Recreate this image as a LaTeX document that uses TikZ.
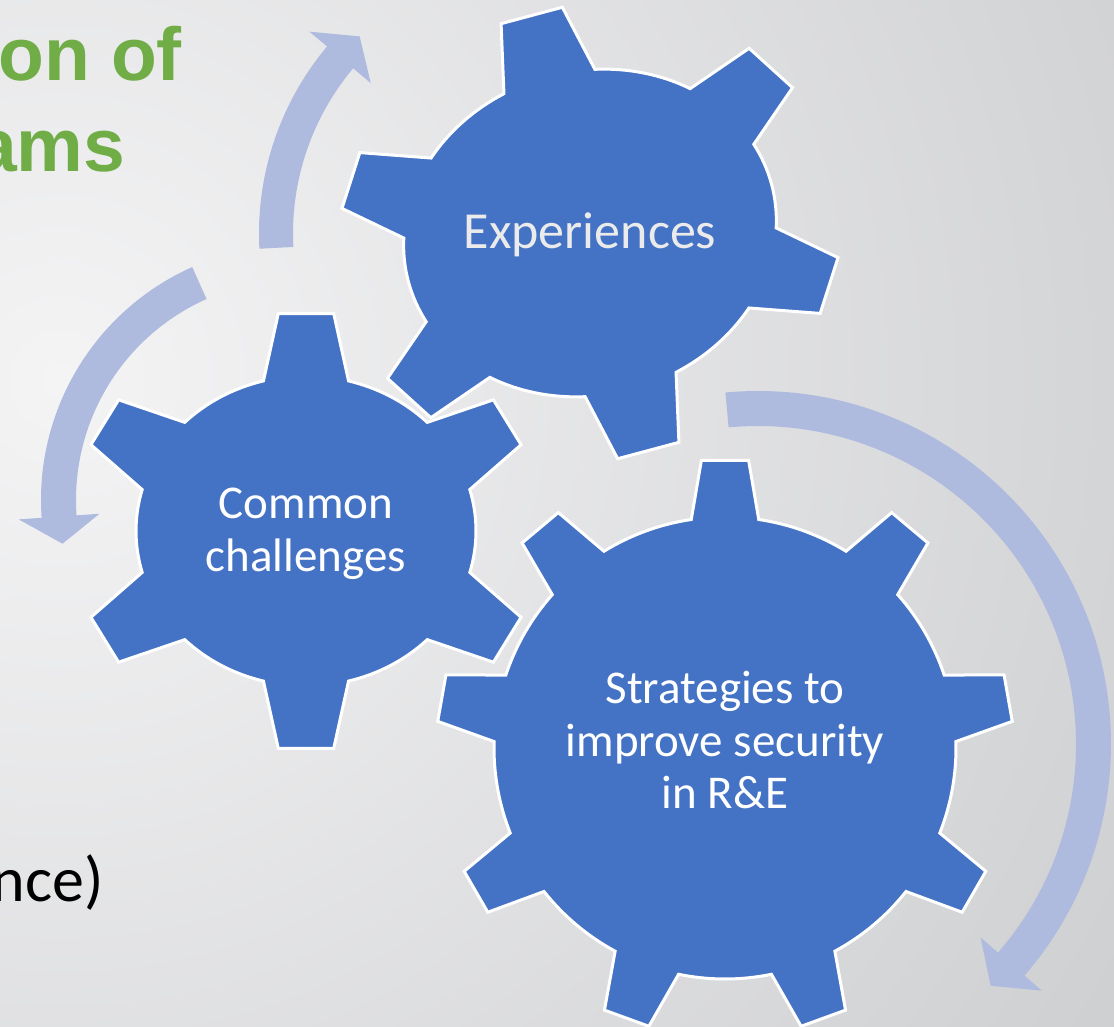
\documentclass[tikz,border=0pt]{standalone}
\usepackage{fontspec}
\setmainfont{Carlito}
\newfontfamily\headfont{Liberation Sans}
\usetikzlibrary{calc}
\definecolor{gearblue}{RGB}{68,114,196}
\definecolor{flowblue}{RGB}{174,187,223}
\definecolor{headgreen}{RGB}{112,173,71}
\definecolor{bglight}{RGB}{244,244,245}
\definecolor{bgdark}{RGB}{206,207,209}
\tikzset{
	gear/.style={fill=gearblue,draw=white,line width=3pt,line join=miter},
	flow/.style={fill=flowblue,draw=none},
	geartext/.style={
		text=white, align=center, inner sep=0pt,
		font=\fontsize{47}{52.5}\selectfont
	},
	headline/.style={text=headgreen,inner sep=0pt,font=\headfont\bfseries\fontsize{75}{90}\selectfont}
}
% #1,#2 root radii, #3 tooth length, #4 teeth, #5 first tooth, #6 root half angle, #7 tip half angle
\newcommand{\gearpath}[7]{%
	\pgfmathsetmacro\tipx{#1+#3}%
	\pgfmathsetmacro\tipy{#2+#3}%
	\pgfmathsetmacro\pitch{360/#4}%
	\path[gear] ({#5-#6}:{#1} and {#2})
	\foreach \k [evaluate=\k as \p using #5+(\k-1)*\pitch] in {1,...,#4}
	{
		-- ({\p-#7}:{\tipx} and {\tipy}) -- ({\p+#7}:{\tipx} and {\tipy}) -- ({\p+#6}:{#1} and {#2})
		arc[start angle=\p+#6, end angle=\p+\pitch-#6, x radius=#1, y radius=#2]
	} -- cycle;
}
% #1 inner radius, #2 outer radius, #3 tail angle, #4 head angle, #5 tip angle
\newcommand{\flowpath}[5]{%
	\pgfmathsetmacro\midr{(#1+#2)/2}%
	\path[flow] (#3:#2) arc[start angle=#3, end angle=#4, radius=#2]
		-- (#4:#2+23) -- (#5:\midr) -- (#4:#1-23) -- (#4:#1)
		arc[start angle=#4, end angle=#3, radius=#1] -- cycle;
}

\begin{document}
\begin{tikzpicture}[x=1pt,y=-1pt]
	\useasboundingbox (0,0) rectangle (1114,1026);
	\clip (0,0) rectangle (1114,1026);
	\shade[inner color=bglight, outer color=bgdark] (60,380) circle (1250);

	\coordinate (expc)	at (590,233);
	\coordinate (comc)	at (306,531);
	\coordinate (strc)	at (725,748);
	\coordinate (upc)	at (550,233.5);
	\coordinate (leftc)	at (296,500);
	\coordinate (rightc)	at (758,744);

	\begin{scope}[shift={(upc)}]	\flowpath{257}{291}{177}{220}{226}	\end{scope}
	\begin{scope}[shift={(leftc)}]	\flowpath{220}{255}{246}{176}{169.4}	\end{scope}
	\begin{scope}[shift={(rightc)}]	\flowpath{318}{353}{-95.3}{41}{46.1}	\end{scope}

	\begin{scope}[shift={(expc)},rotate=15]	\gearpath{188}{162}{65}{6}{-90}{14.5}{7.2}	\end{scope}
	\begin{scope}[shift={(comc)}]	\gearpath{170}{155}{64}{6}{-90}{14.5}{6.8}	\end{scope}
	\begin{scope}[shift={(strc)}]	\gearpath{231}{231}{57.5}{9}{-90}{8.4}{4.7}	\end{scope}

	\node[geartext,text=white!92!black,font=\fontsize{52}{58}\selectfont,anchor=base] (experiences) at (590,248.3) {Experiences};
	\node[geartext] (challenges) at (306,534) {Common\\challenges};
	\node[geartext] (strategies) at (725,740) {Strategies to\\improve security\\in R\&E};

	\node[headline,anchor=base west] (titleA) at (-1.5,80.7) {on of};
	\node[headline,anchor=base east] (titleB) at (125.5,171.7) {ams};
	\node[anchor=base east,inner sep=0pt,font=\fontsize{64}{70}\selectfont] (bullet) at (104,901.7) {nce)};
\end{tikzpicture}
\end{document}
